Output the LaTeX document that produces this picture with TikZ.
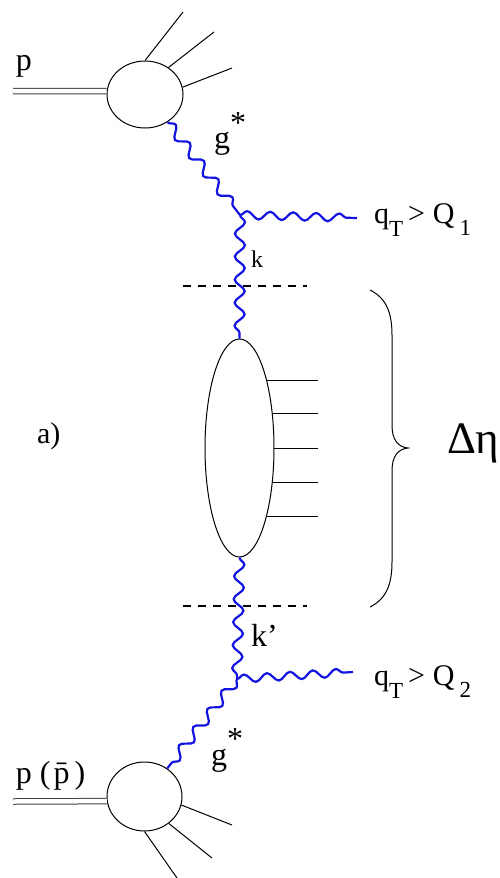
\documentclass[tikz,border=0pt]{standalone}
\usepackage{fontspec}
\setmainfont{Liberation Serif}
\newfontfamily\tms{Liberation Serif}
\usetikzlibrary{shapes.geometric,decorations.pathmorphing}
\definecolor{gluoncol}{RGB}{20,20,225}
\newcommand\fsmain{\tms\fontsize{30}{34}\selectfont}
\newcommand\fssub{\tms\fontsize{23}{26}\selectfont}
\newcommand\fsk{\tms\fontsize{24}{27}\selectfont}
\newcommand\fskk{\tms\fontsize{32}{36}\selectfont}
\newcommand\fsbig{\tms\fontsize{32}{36}\selectfont}
\newcommand\fsdelta{\tms\fontsize{45}{50}\selectfont}
\begin{document}
\begin{tikzpicture}[x=1pt,y=-1pt,
  blob/.style={draw, ellipse, line width=1pt, inner sep=0pt},
  leg/.style={line width=1pt},
  beam/.style={double=white, draw=black!75, double distance=4.5pt, line width=1pt},
  gluon/.style={draw=gluoncol, line width=2.2pt, decorate,
    decoration={snake, amplitude=5pt, segment length=23pt}},
  photon/.style={draw=gluoncol, line width=2.2pt, decorate,
    decoration={snake, amplitude=4pt, segment length=23pt}},
  cut/.style={line width=1.4pt, dash pattern=on 8pt off 7pt},
  lbl/.style={anchor=base west, inner sep=0pt, outer sep=0pt}
]
\useasboundingbox (0,0) rectangle (499,878);

% blobs
\node[blob, minimum width=76pt, minimum height=67pt] (pA) at (145,94.5) {};
\node[blob, minimum width=75pt, minimum height=69pt] (pB) at (144.5,796.5) {};
\node[blob, minimum width=69pt, minimum height=218pt] (ladder) at (239.5,448) {};

% vertices and free ends
\coordinate (v1) at (240,215);
\coordinate (v2) at (237,679);
\coordinate (q1) at (357,218);
\coordinate (q2) at (353,672);
\coordinate (beamA) at (13,91);
\coordinate (beamB) at (13,801.5);

% incoming beams
\draw[beam] (beamA) -- (pA.175);
\draw[beam] (beamB) -- (pB.187);

% outgoing remnants
\coordinate (a1) at (183,12);
\coordinate (a2) at (214,32);
\coordinate (a3) at (232,68);
\draw[leg] (pA.north) -- (a1);
\draw[leg] (pA.49) -- (a2);
\draw[leg] (pA.11) -- (a3);
\coordinate (b1) at (232,825);
\coordinate (b2) at (212,858);
\coordinate (b3) at (177,878);
\draw[leg] (pB.-13) -- (b1);
\draw[leg] (pB.-48) -- (b2);
\draw[leg] (pB.south) -- (b3);

% gluons
\draw[gluon] (pA.-51) -- (v1);
\draw[photon] (v1) -- (q1);
\draw[gluon] (v1) -- (ladder.north);
\draw[gluon] (ladder.south) -- (v2);
\draw[photon] (v2) -- (q2);
\draw[gluon] (v2) -- (pB.51);

% rungs from ladder
\foreach \yy/\xx in {380/266.5, 413/272.2, 448/274, 482/272.3, 516/266.6}{
  \draw[leg] (\xx,\yy) -- (318,\yy);
}

% rapidity cuts
\coordinate (c1l) at (183,286);
\coordinate (c1r) at (307,286);
\coordinate (c2l) at (183,606);
\coordinate (c2r) at (307,606);
\draw[cut] (c1l) -- (c1r);
\draw[cut] (c2l) -- (c2r);

% brace
\draw[leg] (370,290) .. controls (386,298) and (392,312) .. (392,335)
  -- (392,425) .. controls (392,440) and (398,447) .. (408,448)
  .. controls (398,449) and (392,456) .. (392,471)
  -- (392,562) .. controls (392,585) and (386,599) .. (370,607);

% labels
\node[lbl] (lp) at (16,70) {\fsbig p};
\node[lbl] (lpb) at (16,783) {\fsbig p (\hspace{3pt}\={p}\hspace{5pt})};
\node[lbl] (lg1) at (214,148) {\fsbig g\raisebox{15pt}{*}};
\node[lbl] (lg2) at (211,765) {\fsbig g\raisebox{16pt}{*}};
\node[lbl] (lk) at (251,267) {\fsk k};
\node[lbl] (lkk) at (251,646) {\fskk k’};
\node[lbl] (lq1) at (374,223) {\fsmain q\raisebox{-13pt}{\fssub T}\hspace{5pt}>\hspace{8pt}Q\hspace{5pt}\raisebox{-12pt}{\fssub 1}};
\node[lbl] (lq2) at (374,685) {\fsmain q\raisebox{-13pt}{\fssub T}\hspace{5pt}>\hspace{8pt}Q\hspace{5pt}\raisebox{-12pt}{\fssub 2}};
\node[lbl] (la) at (37,443) {\fsmain a)};
\node[lbl] (ldeta) at (447,453) {\fsdelta Δη};
\end{tikzpicture}
\end{document}
